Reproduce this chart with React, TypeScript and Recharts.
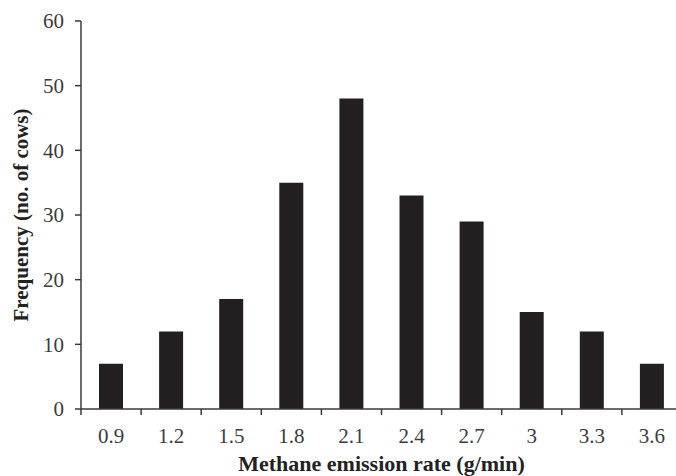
import { BarChart, Bar, XAxis, YAxis } from 'recharts';

const rates = ['0.9', '1.2', '1.5', '1.8', '2.1', '2.4', '2.7', '3', '3.3', '3.6'];
const cows = [7, 12, 17, 35, 48, 33, 29, 15, 12, 7];
const yTicks = [0, 10, 20, 30, 40, 50, 60];

const data = rates.map((rate, i) => ({ rate, cows: cows[i] }));

const FONT = '"Liberation Serif", "Times New Roman", serif';
const AXIS = '#3a3a3a';

// ticks sit on the band edges, labels in the middle
const EdgeTick = (props: any) => {
  const { x, y, payload, index, visibleTicksCount } = props;
  const half = payload?.offset ?? 30;
  const isLast = index === visibleTicksCount - 1;
  return (
    <g>
      <line x1={x - half} x2={x - half} y1={y} y2={y + 6} stroke={AXIS} strokeWidth={1.5} />
      {isLast && <line x1={x + half} x2={x + half} y1={y} y2={y + 6} stroke={AXIS} strokeWidth={1.5} />}
      <text x={x} y={y + 34} textAnchor="middle" fontSize={21} fill="#3c3c3c" fontFamily={FONT}>
        {payload.value}
      </text>
    </g>
  );
};

export default function App() {
  return (
    <div style={{ position: 'absolute', left: 0, top: 0, width: 676, height: 476, overflow: 'hidden', background: '#fff' }}>
      <BarChart
        width={690}
        height={476}
        data={data}
        margin={{ top: 21, right: 8, left: 0, bottom: 0 }}
        barCategoryGap={0}
      >
        <XAxis
          dataKey="rate"
          height={67}
          tickLine={false}
          tickSize={0}
          tickMargin={0}
          interval={0}
          axisLine={{ stroke: AXIS, strokeWidth: 1.5 }}
          tick={<EdgeTick />}
          label={{
            value: 'Methane emission rate (g/min)',
            position: 'insideBottom',
            offset: 5,
            style: { fontFamily: FONT, fontSize: 22, fontWeight: 'bold', fill: '#222' },
          }}
        />
        <YAxis
          width={81}
          domain={[0, 60]}
          ticks={yTicks}
          interval={0}
          tickSize={6}
          tickMargin={11}
          axisLine={{ stroke: AXIS, strokeWidth: 1.5 }}
          tickLine={{ stroke: AXIS, strokeWidth: 1.5 }}
          tick={{ fontFamily: FONT, fontSize: 21, fill: '#3c3c3c' }}
          label={{
            value: 'Frequency (no. of cows)',
            angle: -90,
            position: 'center',
            dx: -20,
            style: { fontFamily: FONT, fontSize: 21, fontWeight: 'bold', fill: '#222', textAnchor: 'middle' },
          }}
        />
        <Bar dataKey="cows" fill="#231f20" barSize={24} isAnimationActive={false} />
      </BarChart>
    </div>
  );
}
